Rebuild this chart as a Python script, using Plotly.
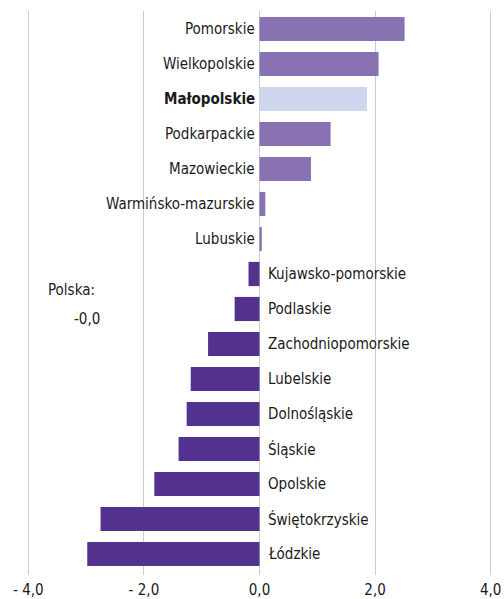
import plotly.graph_objects as go

regions = ["Pomorskie", "Wielkopolskie", "Małopolskie", "Podkarpackie", "Mazowieckie",
           "Warmińsko-mazurskie", "Lubuskie", "Kujawsko-pomorskie", "Podlaskie",
           "Zachodniopomorskie", "Lubelskie", "Dolnośląskie", "Śląskie", "Opolskie",
           "Świętokrzyskie", "Łódzkie"]
values = [2.51, 2.06, 1.86, 1.23, 0.89, 0.10, 0.04, -0.19, -0.43, -0.89, -1.19,
          -1.26, -1.40, -1.82, -2.75, -2.98]
tick_vals = [-4, -2, 0, 2, 4]
tick_text = ["- 4,0", "- 2,0", "0,0", "2,0", "4,0"]
highlight = "Małopolskie"
polska_label = "Polska:"
polska_value = "-0,0"

FONT = "DejaVu Sans Condensed"
FS = 15
colors = []
for r, v in zip(regions, values):
    if r == highlight:
        colors.append("#d0d5ee")
    elif v >= 0:
        colors.append("#8872b2")
    else:
        colors.append("#52318f")

fig = go.Figure(go.Bar(
    x=values, y=regions, orientation="h", marker=dict(color=colors, line=dict(width=0)),
    width=0.69, hoverinfo="skip"))

annotations = []
for r, v in zip(regions, values):
    txt = f"<b>{r}</b>" if r == highlight else r
    if v >= 0:
        annotations.append(dict(x=0, y=r, xref="x", yref="y", text=txt, showarrow=False,
                                xanchor="right", xshift=-3, font=dict(family=FONT, size=FS, color="#1a1a1a")))
    else:
        annotations.append(dict(x=0, y=r, xref="x", yref="y", text=txt, showarrow=False,
                                xanchor="left", xshift=6, font=dict(family=FONT, size=FS, color="#1a1a1a")))

annotations.append(dict(x=46, y=290, xref="paper", yref="paper", text=polska_label, showarrow=False,
                        xanchor="left", font=dict(family=FONT, size=FS, color="#1a1a1a")))
annotations.append(dict(x=102, y=319, xref="paper", yref="paper", text=polska_value, showarrow=False,
                        xanchor="right", font=dict(family=FONT, size=FS, color="#1a1a1a")))

W, H = 504, 599
XR = [-4.04, 4.04]
px_per = 57.8
x0 = 259.7
L = round(x0 + XR[0] * px_per)
R = W - round(x0 + XR[1] * px_per)
T, B = 11, 24
pw, ph = W - L - R, H - T - B
for a in annotations[-2:]:
    a["x"] = (a["x"] - L) / pw
    a["y"] = 1 - (a["y"] - T) / ph

fig.update_layout(
    width=W, height=H, margin=dict(l=L, r=R, t=T, b=B, pad=0, autoexpand=False),
    paper_bgcolor="white", plot_bgcolor="white", showlegend=False,
    font=dict(family=FONT, size=FS, color="#1a1a1a"),
    xaxis=dict(range=XR, tickvals=tick_vals, ticktext=tick_text, showgrid=True,
               gridcolor="#cccccc", gridwidth=1, zeroline=True, zerolinecolor="#cccccc",
               zerolinewidth=1, showline=False, ticks="", ticklabelstandoff=4,
               automargin=False, tickfont=dict(family=FONT, size=FS)),
    yaxis=dict(range=[15.6, -0.514], showticklabels=False, showgrid=False, zeroline=False,
               showline=False, ticks="", automargin=False),
    annotations=annotations,
)
fig.write_html("out.html", config={"displayModeBar": False},
               post_script="document.body.style.margin='0';document.body.style.overflow='hidden';")
